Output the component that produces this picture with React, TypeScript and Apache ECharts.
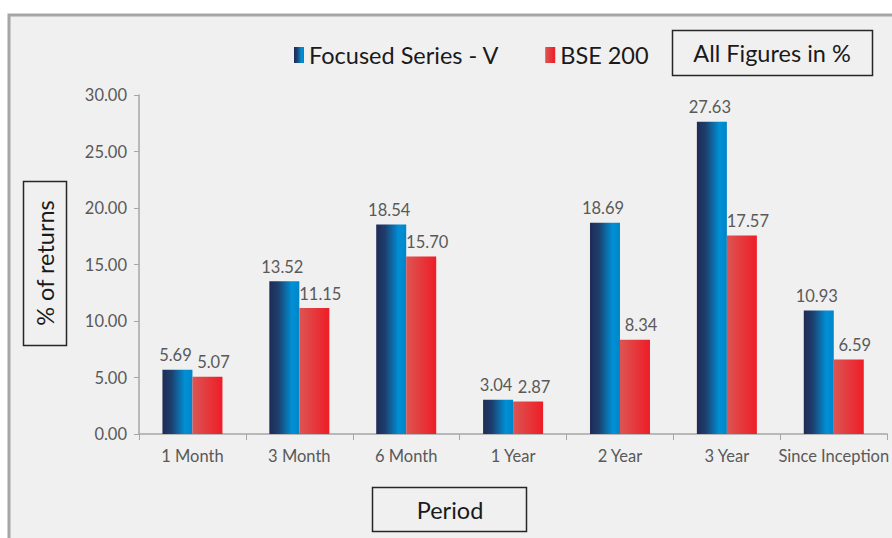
import React, { useEffect, useRef } from "react";
import * as echarts from "echarts";

const categories = ["1 Month", "3 Month", "6 Month", "1 Year", "2 Year", "3 Year", "Since Inception"];
const focusedValues = [5.69, 13.52, 18.54, 3.04, 18.69, 27.63, 10.93];
const bseValues = [5.07, 11.15, 15.7, 2.87, 8.34, 17.57, 6.59];
const yTicks = { min: 0, max: 30, interval: 5 };

const FONT = "Lato, 'Open Sans', sans-serif";
const SMALL = 16.5;
const BIG = 23.5;

export default function App() {
  const ref = useRef<HTMLDivElement>(null);
  useEffect(() => {
    if (!ref.current) return;
    const chart = echarts.init(ref.current, undefined, { renderer: "svg" });
    const blueGrad = new echarts.graphic.LinearGradient(0, 0, 1, 0, [
      { offset: 0, color: "#1f2b55" },
      { offset: 0.3, color: "#1d3f6e" },
      { offset: 0.75, color: "#0090d6" },
      { offset: 1, color: "#0085c8" },
    ]);
    const redGrad = new echarts.graphic.LinearGradient(0, 0, 1, 0, [
      { offset: 0, color: "#dc5553" },
      { offset: 1, color: "#ee1d26" },
    ]);
    const labelStyle = (dx: number) => ({
      show: true,
      position: "top" as const,
      distance: 6,
      offset: [dx, 0],
      color: "#595959",
      fontSize: SMALL,
      fontFamily: FONT,
      formatter: (p: any) => Number(p.value).toFixed(2),
    });
    chart.setOption({
      animation: false,
      backgroundColor: "#ffffff",
      textStyle: { fontFamily: FONT },
      graphic: [
        {
          type: "rect",
          z: -10,
          shape: { x: 9, y: 15, width: 900, height: 540 },
          style: { fill: "#f0f0f0", stroke: "#a6a6a6", lineWidth: 3 },
        },
        {
          type: "rect",
          shape: { x: 672.5, y: 30.5, width: 200, height: 45 },
          style: { fill: "#f0f0f0", stroke: "#262626", lineWidth: 1.5 },
        },
        {
          type: "text",
          x: 772,
          y: 53,
          style: {
            text: "All Figures in %",
            fill: "#1a1a1a",
            fontSize: BIG,
            fontFamily: FONT,
            align: "center",
            verticalAlign: "middle",
          },
        },
        {
          type: "rect",
          shape: { x: 23.5, y: 181.5, width: 43, height: 164 },
          style: { fill: "#f0f0f0", stroke: "#262626", lineWidth: 1.5 },
        },
        {
          type: "text",
          x: 45,
          y: 263,
          rotation: Math.PI / 2,
          style: {
            text: "% of returns",
            fill: "#1a1a1a",
            fontSize: BIG,
            fontFamily: FONT,
            align: "center",
            verticalAlign: "middle",
          },
        },
        {
          type: "rect",
          shape: { x: 372.5, y: 487.5, width: 154, height: 44 },
          style: { fill: "#f0f0f0", stroke: "#262626", lineWidth: 1.5 },
        },
        {
          type: "text",
          x: 450,
          y: 510,
          style: {
            text: "Period",
            fill: "#1a1a1a",
            fontSize: BIG,
            fontFamily: FONT,
            align: "center",
            verticalAlign: "middle",
          },
        },
      ],
      legend: {
        left: 289,
        top: 38,
        itemWidth: 10,
        itemHeight: 16,
        itemGap: 46,
        icon: "rect",
        textStyle: { fontSize: BIG, color: "#1a1a1a", fontFamily: FONT },
        data: ["Focused Series - V", "BSE 200"],
      },
      grid: { left: 139, right: 3, top: 95, bottom: 104, containLabel: false },
      xAxis: {
        type: "category",
        data: categories,
        axisLine: { lineStyle: { color: "#a6a6a6", width: 1.5 } },
        axisTick: { show: true, length: 6, lineStyle: { color: "#a6a6a6" } },
        axisLabel: { color: "#595959", fontSize: SMALL, fontFamily: FONT, margin: 13, interval: 0 },
      },
      yAxis: {
        type: "value",
        min: yTicks.min,
        max: yTicks.max,
        interval: yTicks.interval,
        splitLine: { show: false },
        axisLine: { show: true, lineStyle: { color: "#a6a6a6", width: 1.5 } },
        axisTick: { show: true, length: 5, lineStyle: { color: "#a6a6a6" } },
        axisLabel: {
          color: "#595959",
          fontSize: SMALL,
          fontFamily: FONT,
          margin: 12,
          formatter: (v: number) => v.toFixed(2),
        },
      },
      series: [
        {
          name: "Focused Series - V",
          type: "bar",
          data: focusedValues,
          barWidth: 30,
          barGap: "0%",
          itemStyle: { color: blueGrad },
          label: labelStyle(-2),
        },
        {
          name: "BSE 200",
          type: "bar",
          data: bseValues,
          barWidth: 30,
          barGap: "0%",
          itemStyle: { color: redGrad },
          label: labelStyle(6),
        },
      ],
    });
    return () => chart.dispose();
  }, []);
  return (
    <div
      ref={ref}
      style={{ position: "fixed", left: 0, top: 0, width: 892, height: 538 }}
    />
  );
}
